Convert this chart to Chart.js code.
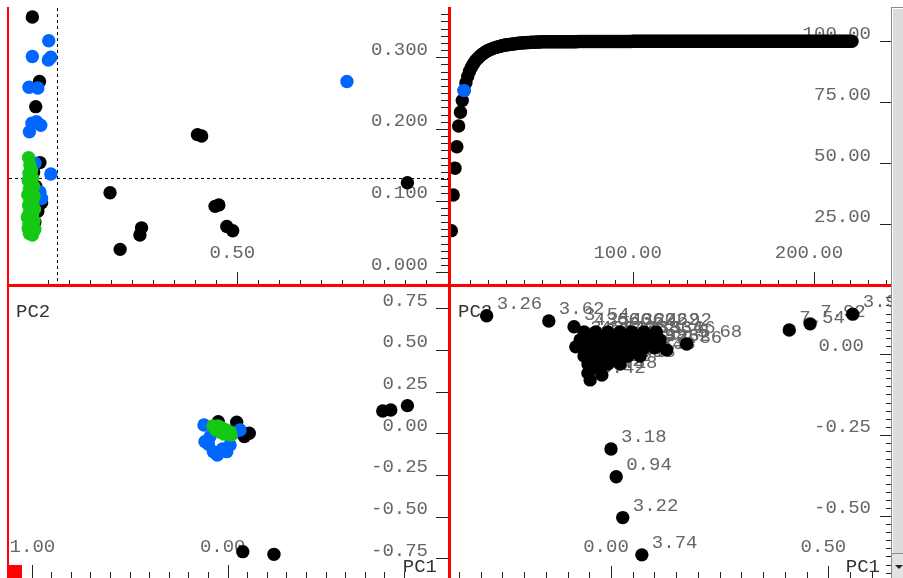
<!DOCTYPE html>
<html>
<head>
<meta charset="utf-8">
<script src="https://cdn.jsdelivr.net/npm/chart.js@4.4.1/dist/chart.umd.min.js"></script>
<style>
  html, body { margin: 0; padding: 0; background: #fff; }
  body { width: 903px; height: 578px; position: relative; overflow: hidden; }
  .pane { position: absolute; }
  .pane canvas { display: block; }
  .bar { position: absolute; background: #ff0000; }
  #vscroll { position: absolute; left: 891px; top: 7px; width: 11px; height: 571px; background: #dcdcdc;
             border-left: 1px solid #8a8a8a; border-top: 1px solid #8a8a8a; box-shadow: inset 1px 1px 0 #fff; }
  #vscroll .btn { position: absolute; left: 0; right: 0; bottom: 0; height: 25px; border-top: 1px solid #8a8a8a; background: #e2e2e2; }
  #vscroll .btn:after { content: ''; position: absolute; left: 3px; top: 11px; border-left: 4px solid transparent;
                        border-right: 4px solid transparent; border-top: 4px solid #222; }
  #corner { position: absolute; left: 7px; top: 565px; width: 15px; height: 13px; background: #ff0000; }
</style>
</head>
<body>
<div class="pane" style="left:9px;top:8px"><canvas id="influence" width="439" height="276"></canvas></div>
<div class="pane" style="left:451px;top:8px"><canvas id="variance" width="440" height="276"></canvas></div>
<div class="pane" style="left:9px;top:287px"><canvas id="scores" width="439" height="291"></canvas></div>
<div class="pane" style="left:451px;top:287px"><canvas id="loadings" width="440" height="291"></canvas></div>
<div class="bar" style="left:7px;top:7px;width:2px;height:571px"></div>
<div class="bar" style="left:448px;top:7px;width:3px;height:571px"></div>
<div class="bar" style="left:7px;top:284px;width:884px;height:3px"></div>
<div id="vscroll"><div class="btn"></div></div>
<div id="corner"></div>

<script>
// ---- influence plot (leverage vs residual) ----
const influenceBlack = [
  [0.012, 0.356], [0.029, 0.266], [0.020, 0.231], [0.030, 0.153], [0.034, 0.097],
  [0.015, 0.140], [0.020, 0.120], [0.025, 0.085], [0.018, 0.070], [0.028, 0.110], [0.010, 0.105],
  [0.197, 0.111], [0.221, 0.032], [0.272, 0.062], [0.268, 0.052], [0.405, 0.192], [0.415, 0.190],
  [0.447, 0.092], [0.456, 0.094], [0.475, 0.064], [0.489, 0.058], [0.905, 0.125]
];
const influenceBlue = [
  [0.051, 0.323], [0.012, 0.301], [0.050, 0.296], [0.056, 0.300], [0.004, 0.258], [0.025, 0.257],
  [0.011, 0.208], [0.005, 0.196], [0.032, 0.205], [0.022, 0.210], [0.056, 0.137], [0.030, 0.112],
  [0.034, 0.103], [0.018, 0.152], [0.761, 0.266]
];
const influenceGreen = [
  [0.003, 0.160], [0.006, 0.150], [0.010, 0.142], [0.004, 0.138], [0.012, 0.132], [0.002, 0.128],
  [0.008, 0.124], [0.015, 0.120], [0.005, 0.116], [0.011, 0.112], [0.001, 0.108], [0.016, 0.106],
  [0.007, 0.102], [0.013, 0.098], [0.003, 0.094], [0.009, 0.090], [0.017, 0.088], [0.005, 0.084],
  [0.012, 0.080], [0.000, 0.077], [0.008, 0.074], [0.016, 0.072], [0.004, 0.068], [0.011, 0.065],
  [0.002, 0.061], [0.009, 0.058], [0.014, 0.056], [0.005, 0.054], [0.012, 0.052], [0.018, 0.060]
];
const leverageLimit = 0.071;
const residualLimit = 0.1315;
const influenceXLabels = [0.5];
const influenceYLabels = [0, 0.1, 0.2, 0.3];

// ---- cumulative explained variance, one value per component ----
const explainedVariance = [
  22.4, 37.0, 48.0, 56.8, 65.3, 70.9, 75.7, 79.8, 83.0, 85.6,
  87.7, 89.3, 90.6, 91.7, 92.6, 93.4, 94.1, 94.7, 95.2, 95.7,
  96.1, 96.5, 96.8, 97.1, 97.4, 97.6, 97.8, 98.0, 98.2, 98.4,
  98.5, 98.6, 98.7, 98.8, 98.9, 99.0, 99.1, 99.2, 99.3, 99.3,
  99.4, 99.4, 99.5, 99.5, 99.6, 99.6, 99.6, 99.7, 99.7, 99.7,
  99.8, 99.8, 99.8, 99.8, 99.8, 99.8, 99.8, 99.8, 99.8, 99.8,
  99.8, 99.8, 99.8, 99.8, 99.8, 99.8, 99.8, 99.8, 99.8, 99.8,
  99.9, 99.9, 99.9, 99.9, 99.9, 99.9, 99.9, 99.9, 99.9, 99.9,
  99.9, 99.9, 99.9, 99.9, 99.9, 99.9, 99.9, 99.9, 99.9, 99.9,
  99.9, 99.9, 99.9, 99.9, 99.9, 99.9, 99.9, 99.9, 99.9, 99.9,
  100, 100, 100, 100, 100, 100, 100, 100, 100, 100, 100, 100, 100, 100, 100, 100, 100, 100, 100, 100,
  100, 100, 100, 100, 100, 100, 100, 100, 100, 100, 100, 100, 100, 100, 100, 100, 100, 100, 100, 100,
  100, 100, 100, 100, 100, 100, 100, 100, 100, 100, 100, 100, 100, 100, 100, 100, 100, 100, 100, 100,
  100, 100, 100, 100, 100, 100, 100, 100, 100, 100, 100, 100, 100, 100, 100, 100, 100, 100, 100, 100,
  100, 100, 100, 100, 100, 100, 100, 100, 100, 100, 100, 100, 100, 100, 100, 100, 100, 100, 100, 100,
  100, 100, 100, 100, 100, 100, 100, 100, 100, 100, 100, 100, 100, 100, 100, 100, 100, 100, 100, 100,
  100, 100
];
const selectedPC = 7;
const varianceXLabels = [100, 200];
const varianceYLabels = [25, 50, 75, 100];

// ---- scores PC1 / PC2 ----
const scoresBlack = [
  [0.791, 0.134], [0.832, 0.140], [0.917, 0.166], [0.077, -0.710], [0.236, -0.726],
  [0.046, 0.066], [0.110, 0.000], [-0.048, 0.070], [0.085, -0.020]
];
const scoresBlue = [
  [-0.121, 0.050], [-0.099, -0.066], [-0.073, -0.110], [-0.053, -0.130], [-0.026, -0.094],
  [0.012, -0.070], [0.063, 0.020], [-0.090, -0.020], [-0.005, -0.110], [-0.116, -0.050], [0.029, 0.000]
];
const scoresGreen = [
  [-0.075, 0.044], [-0.065, 0.038], [-0.055, 0.032], [-0.044, 0.026], [-0.034, 0.020], [-0.024, 0.014],
  [-0.014, 0.008], [-0.004, 0.002], [0.007, -0.004], [0.017, -0.010], [-0.060, 0.020], [-0.039, 0.008],
  [-0.019, -0.004], [-0.049, 0.044], [-0.029, 0.032], [-0.009, 0.020], [0.012, 0.008]
];
const scoresXLabels = [-1, 0];
const scoresYLabels = [-0.75, -0.5, -0.25, 0, 0.25, 0.5, 0.75];

// ---- loadings PC1 / PC2 with variable names ----
const loadingsPoints = [
  [-0.286, 0.118], [-0.143, 0.102], [-0.085, 0.084], [0.174, 0.031], [0.128, 0.012],
  [0.410, 0.074], [0.458, 0.093], [0.556, 0.123], [0.000, -0.293], [0.012, -0.379],
  [0.027, -0.505], [0.071, -0.620], [-0.048, -0.080], [-0.053, -0.059], [-0.021, -0.065],
  [-0.062, 0.068], [-0.035, 0.068], [-0.007, 0.068], [0.021, 0.068], [0.048, 0.068], [0.076, 0.068], [0.104, 0.068],
  [-0.071, 0.043], [-0.048, 0.043], [-0.025, 0.043], [0.002, 0.043], [0.030, 0.043], [0.058, 0.043], [0.085, 0.043], [0.113, 0.043],
  [-0.081, 0.022], [-0.053, 0.019], [-0.030, 0.019], [-0.007, 0.019], [0.021, 0.019], [0.048, 0.019], [0.076, 0.019], [0.101, 0.019],
  [-0.062, -0.006], [-0.039, -0.006], [-0.016, -0.006], [0.012, -0.006], [0.039, -0.006], [0.067, -0.006],
  [-0.053, -0.031], [-0.030, -0.031], [-0.007, -0.031], [0.021, -0.031], [-0.035, -0.043]
];
const loadingsNames = [
  '3.26', '3.62', '3.54', '5.68', '2.86', '7.54', '7.92', '3.98', '3.18', '0.94',
  '3.22', '3.74', '3.42', '2.42', '4.18',
  '4.66', '3.66', '5.06', '4.62', '3.02', '2.62', '4.92',
  '3.86', '4.54', '5.22', '3.06', '4.38', '4.86', '3.34', '5.66',
  '2.74', '4.02', '5.46', '3.58', '4.94', '2.98', '4.26', '3.82',
  '4.46', '3.14', '5.34', '2.58', '4.74', '3.38',
  '4.06', '5.14', '3.78', '2.18', '4.82'
];
const loadingsXLabels = [0, 0.5];
const loadingsYLabels = [-0.5, -0.25, 0];

const BLACK = '#000000', BLUE = '#0066ff', GREEN = '#14c814';
const FONT = '19px "Liberation Mono", "Courier New", monospace';
const TEXT = '#666666', TITLE = '#333333';

const xy = pairs => pairs.map(([x, y]) => ({ x, y }));

function dots(data, color, order) {
  return { data, backgroundColor: color, borderWidth: 0, pointRadius: 6.7, pointHoverRadius: 6.7, order };
}

// tick marks from `start` in `step`s; multiples of `major` get the long tick
function tickList(start, step, count, major, longLen, shortLen) {
  const out = [];
  for (let i = 0; i < count; i++) {
    const v = start + i * step;
    const isMajor = Math.abs(v / major - Math.round(v / major)) < 1e-6;
    out.push({ v, len: isMajor ? longLen : shortLen });
  }
  return out;
}

// axes sit on the bottom and right edges of each pane, drawn under the points
function axes(o) {
  return {
    id: 'paneAxes',
    beforeDatasetsDraw(chart) {
      const { ctx, chartArea: a, scales: { x, y } } = chart;
      ctx.save();
      ctx.strokeStyle = '#222';
      ctx.lineWidth = 1;
      ctx.beginPath();
      for (const t of o.xTicks) {
        const px = Math.round(x.getPixelForValue(t.v)) + 0.5;
        ctx.moveTo(px, a.bottom);
        ctx.lineTo(px, a.bottom - t.len);
      }
      for (const t of o.yTicks) {
        const py = Math.round(y.getPixelForValue(t.v)) + 0.5;
        ctx.moveTo(a.right, py);
        ctx.lineTo(a.right - t.len, py);
      }
      ctx.stroke();

      ctx.font = FONT;
      ctx.fillStyle = TEXT;
      ctx.textBaseline = 'alphabetic';
      ctx.textAlign = 'center';
      for (const v of o.xLabels) ctx.fillText(v.toFixed(o.xDigits), x.getPixelForValue(v) - 5, a.bottom - 26);
      ctx.textAlign = 'right';
      for (const v of o.yLabels) {
        const inset = o.yInset ? o.yInset(v) : 20;
        ctx.fillText(v.toFixed(o.yDigits), a.right - inset, y.getPixelForValue(v) - 2.5);
      }
      if (o.extra) o.extra(ctx, a, x, y);
      ctx.restore();
    }
  };
}

function pane(id, xRange, yRange, datasets, decor) {
  return new Chart(document.getElementById(id), {
    type: 'scatter',
    data: { datasets },
    options: {
      responsive: false,
      animation: false,
      events: [],
      layout: { padding: 0, autoPadding: false },
      plugins: { legend: { display: false }, tooltip: { enabled: false } },
      scales: {
        x: { type: 'linear', display: false, min: xRange[0], max: xRange[1] },
        y: { type: 'linear', display: false, min: yRange[0], max: yRange[1] }
      }
    },
    plugins: [decor]
  });
}

function axisTitles(ctx, a) {
  ctx.fillStyle = TITLE;
  ctx.textAlign = 'left';
  ctx.fillText('PC2', 7, 30);
  ctx.textAlign = 'right';
  ctx.fillText('PC1', a.right - 11, a.bottom - 6);
}

pane('influence', [-0.0436, 1.0016], [-0.0163, 0.3686], [
  dots(xy(influenceGreen), GREEN, 1),
  dots(xy(influenceBlue), BLUE, 2),
  dots(xy(influenceBlack), BLACK, 3)
], axes({
  xTicks: tickList(0.05, 0.05, 19, 0.5, 12, 4),
  yTicks: tickList(0, 0.01, 37, 0.1, 12, 7),
  xLabels: influenceXLabels, xDigits: 2,
  yLabels: influenceYLabels, yDigits: 3,
  extra(ctx, a, x, y) {
    ctx.strokeStyle = '#000';
    ctx.setLineDash([3, 3]);
    ctx.beginPath();
    const lx = Math.round(x.getPixelForValue(leverageLimit)) + 0.5;
    const ly = Math.round(y.getPixelForValue(residualLimit)) + 0.5;
    ctx.moveTo(lx, a.top);
    ctx.lineTo(lx, a.bottom);
    ctx.moveTo(a.left, ly);
    ctx.lineTo(a.right, ly);
    ctx.stroke();
    ctx.setLineDash([]);
  }
}));

pane('variance', [-0.22, 242.5], [0.53, 113.65], [
  dots([{ x: selectedPC, y: explainedVariance[selectedPC] }], BLUE, 1),
  dots(explainedVariance.map((v, i) => ({ x: i, y: v })), BLACK, 2)
], axes({
  xTicks: tickList(10, 10, 24, 100, 12, 4),
  yTicks: tickList(25, 25, 4, 25, 11, 11),
  xLabels: varianceXLabels, xDigits: 2,
  yLabels: varianceYLabels, yDigits: 2
}));

pane('scores', [-1.1158, 1.124], [-0.868, 0.8776], [
  dots(xy(scoresGreen), GREEN, 1),
  dots(xy(scoresBlue), BLUE, 2),
  dots(xy(scoresBlack), BLACK, 3)
], axes({
  xTicks: tickList(-1.1, 0.1, 21, 1, 13, 6),
  yTicks: tickList(-0.75, 0.25, 7, 0.25, 12, 12),
  xLabels: scoresXLabels, xDigits: 2,
  yLabels: scoresYLabels, yDigits: 2,
  extra: axisTitles
}));

pane('loadings', [-0.368, 0.644], [-0.6914, 0.2068], [
  dots(xy(loadingsPoints), BLACK, 1)
], axes({
  xTicks: tickList(-0.35, 0.05, 20, 0.5, 12, 6),
  yTicks: tickList(-0.675, 0.025, 35, 0.25, 11, 5),
  xLabels: loadingsXLabels, xDigits: 2,
  yLabels: loadingsYLabels, yDigits: 2,
  yInset: v => (v < 0 ? 20 : 27),
  extra(ctx, a, x, y) {
    axisTitles(ctx, a);
    ctx.fillStyle = TEXT;
    ctx.textAlign = 'left';
    loadingsPoints.forEach(([px, py], i) => {
      ctx.fillText(loadingsNames[i], x.getPixelForValue(px) + 10, y.getPixelForValue(py) - 7);
    });
  }
}));
</script>
</body>
</html>
